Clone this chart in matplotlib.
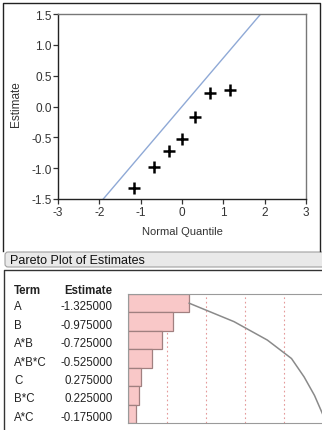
import numpy as np
import matplotlib
matplotlib.use("Agg")
import matplotlib.pyplot as plt
from matplotlib.patches import FancyBboxPatch
from matplotlib import transforms

plt.rcParams['font.family'] = ['Liberation Sans', 'DejaVu Sans']

# ---- data ----
terms = ["A", "B", "A*B", "A*B*C", "C", "B*C", "A*C"]
estimates = [-1.325, -0.975, -0.725, -0.525, 0.275, 0.225, -0.175]
normal_quantiles = [-1.15, -0.67, -0.32, 0.0, 0.32, 0.67, 1.15]
sorted_estimates = [-1.325, -0.975, -0.725, -0.525, -0.175, 0.225, 0.275]
line_slope = 0.7875
line_intercept = 0.0
x_ticks = [-3, -2, -1, 0, 1, 2, 3]
y_ticks = [-1.5, -1.0, -0.5, 0.0, 0.5, 1.0, 1.5]
ref_fracs = [0.2, 0.4, 0.6, 0.8]

W, H = 322, 431
fig = plt.figure(figsize=(W / 100, H / 100), dpi=100)

def fx(px):
    return px / W

def fy(py):
    return 1 - py / H

# overlay axes in pixel coords for frames / header
ov = fig.add_axes([0, 0, 1, 1], zorder=-1)
ov.set_xlim(0, W)
ov.set_ylim(H, 0)
ov.axis('off')

# top outer frame
ov.plot([3.5, 3.5, 320.5, 320.5], [252, 4, 4, 252], color='#222222', lw=1.0)
# header box
hdr = FancyBboxPatch((5, 253), 330, 15, boxstyle="round,pad=0,rounding_size=3",
                     facecolor='#e9e9e9', edgecolor='#a0a0a0', lw=0.8)
ov.add_patch(hdr)
ov.text(10, 261, "Pareto Plot of Estimates", fontsize=9, color='#111111',
        ha='left', va='center')
# bottom panel frame
ov.plot([4, 4, 322], [431, 271, 271], color='#333333', lw=1.0)

# ---- normal plot ----
ax = fig.add_axes([fx(58), fy(200), fx(306) - fx(58), fy(15) - fy(200)])
ax.set_xlim(-3, 3)
ax.set_ylim(-1.5, 1.5)
xs = np.array([-3, 3])
ax.plot(xs, line_slope * xs + line_intercept, color='#8fa9d6', lw=1.0, zorder=2)
ax.plot(normal_quantiles, sorted_estimates, linestyle='none', marker='+',
        markersize=8.5, mew=1.8, color='black', zorder=3)
ax.set_xticks(x_ticks)
ax.set_xticklabels([str(t) for t in x_ticks])
ax.set_yticks(y_ticks)
ax.set_yticklabels([f"{t:.1f}" for t in y_ticks])
ax.tick_params(direction='out', length=3.8, width=0.9, labelsize=8.5,
               labelcolor='#333333', color='#333333')
ax.tick_params(axis='y', pad=0.5)
ax.tick_params(axis='x', pad=1.5)
for s in ['left', 'bottom']:
    ax.spines[s].set_color('#222222')
    ax.spines[s].set_linewidth(1.0)
for s in ['top', 'right']:
    ax.spines[s].set_color('#777777')
    ax.spines[s].set_linewidth(1.0)
ax.set_ylabel("Estimate", fontsize=8.5, color='#333333')
ax.yaxis.set_label_coords(-0.168, 0.52)
ax.yaxis.label.set_va('center')
ax.set_xlabel("Normal Quantile", fontsize=8, color='#333333')
ax.xaxis.set_label_coords(0.5, -0.173)
ax.xaxis.label.set_va('center')

# ---- pareto plot ----
abs_est = np.abs(np.array(estimates))
total = abs_est.sum()
cum = np.cumsum(abs_est)
rows = np.arange(len(terms))

ax2 = fig.add_axes([fx(128.3), fy(424), fx(322.5) - fx(128.3), fy(295) - fy(424)])
ax2.set_xlim(0, total)
ax2.set_ylim(len(terms) - 0.5, -0.5)
ax2.barh(rows, abs_est, height=1.0, color='#f9c8c8', edgecolor='#a08080',
         lw=0.9, zorder=2)
for f in ref_fracs:
    ax2.axvline(f * total, color='#e49a9a', lw=0.8, ls=(0, (1.5, 2.5)), zorder=1)
ax2.plot(cum, rows, color='#8a8a8a', lw=1.1, zorder=3, clip_on=False)
ax2.set_xticks([])
ax2.set_yticks([])
for s in ax2.spines.values():
    s.set_color('#9a9a9a')
    s.set_linewidth(0.8)

# table text: x in overlay pixels, y in pareto data coords
tr = transforms.blended_transform_factory(ov.transData, ax2.transData)
fs = 8.3
fig.text(14, -0.72, "Term", transform=tr, fontsize=fs, fontweight='bold',
         color='#222222', ha='left', va='center')
fig.text(112.7, -0.72, "Estimate", transform=tr, fontsize=fs, fontweight='bold',
         color='#222222', ha='right', va='center')
for i, (t, e) in enumerate(zip(terms, estimates)):
    fig.text(14, i + 0.17, t, transform=tr, fontsize=fs, color='#222222',
             ha='left', va='center')
    fig.text(112.7, i + 0.17, f"{e:.6f}", transform=tr, fontsize=fs,
             color='#222222', ha='right', va='center')

fig.savefig("out.png", dpi=100)
